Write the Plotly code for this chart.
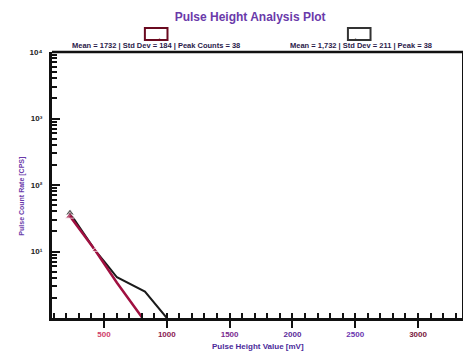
import plotly.graph_objects as go

# ---- data ----
red_x = [229, 428, 603, 802]
red_y = [34, 10.5, 3.4, 1.03]
black_x = [229, 428, 524, 603, 826, 1000]
black_y = [38, 10.5, 6.3, 4.1, 2.5, 1.0]

x_tick_vals = [500, 1000, 1500, 2000, 2500, 3000]
x_tick_text = ["500", "1000", "1500", "2000", "2500", "3000"]
x_tick_colors = ["#d0406a", "#8a1a50", "#7a2a90", "#5a2a9a", "#6a35b0", "#7a1a40"]
y_tick_vals = [1, 10, 100, 1000, 10000]
y_tick_text = ["", "10¹", "10²", "10³", "10⁴"]
y_minor_vals = [m * d for d in (1, 10, 100, 1000) for m in range(2, 10)]

legend_texts = ["Mean = 1732 | Std Dev = 184 | Peak Counts = 38",
                "Mean = 1,732 | Std Dev = 211 | Peak = 38"]

purple = "#6a3aaa"

fig = go.Figure()
fig.add_trace(go.Scatter(x=black_x, y=black_y, mode="lines+markers",
                         line=dict(color="#1a1a1a", width=2),
                         marker=dict(symbol="triangle-up", size=[8, 5, 0, 0, 0, 0], color="#1a1a1a"),
                         showlegend=False))
fig.add_trace(go.Scatter(x=red_x, y=red_y, mode="lines+markers",
                         line=dict(color="#a01040", width=2.5),
                         marker=dict(symbol="triangle-up", size=[8, 5, 0, 0], color="#a01040"),
                         showlegend=False))

fig.update_layout(
    width=471, height=353,
    margin=dict(l=44, r=16, t=44, b=43, autoexpand=False),
    paper_bgcolor="white", plot_bgcolor="white",
    font=dict(family="Liberation Sans", size=8, color="#222"),
    title=dict(text="<b>Pulse Height Analysis Plot</b>", x=0.514, xanchor="center",
               y=0.975, yanchor="middle", font=dict(size=12, color=purple)),
    xaxis=dict(range=[86, 3358], showgrid=False, zeroline=False, automargin=False,
               showline=True, linecolor="#111", linewidth=3,
               tickmode="array", tickvals=x_tick_vals,
               ticktext=[f"<span style='color:{c}'><b>{t}</b></span>" for t, c in zip(x_tick_text, x_tick_colors)],
               ticks="outside", ticklen=7, tickwidth=2, tickcolor="#111",
               tickfont=dict(size=8), ticklabelstandoff=-1,
               minor=dict(ticks="inside", ticklen=5, tickwidth=2, tickcolor="#111", dtick=100, showgrid=False)),
    yaxis=dict(type="log", range=[0, 4], showgrid=False, zeroline=False, automargin=False,
               showline=True, linecolor="#111", linewidth=3,
               tickmode="array", tickvals=y_tick_vals, ticktext=[f"<b>{t}</b>" for t in y_tick_text],
               ticks="inside", ticklen=8, tickwidth=2, tickcolor="#111",
               tickfont=dict(size=8, color="#222"), ticklabelstandoff=5,
               minor=dict(ticks="inside", ticklen=5, tickwidth=2, tickcolor="#111",
                          tickmode="array", tickvals=y_minor_vals, showgrid=False)),
)

# axis titles
fig.add_annotation(x=0.50, y=-0.109, xref="paper", yref="paper", showarrow=False,
                   xanchor="center", yanchor="middle",
                   text="<b>Pulse Height Value [mV]</b>", font=dict(size=8, color="#4a2a9a"))
fig.add_annotation(x=-0.073, y=0.46, xref="paper", yref="paper", showarrow=False, textangle=-90,
                   xanchor="center", yanchor="middle",
                   text="<b>Pulse Count Rate [CPS]</b>", font=dict(size=7, color=purple))

# top and right borders
fig.add_shape(type="line", xref="paper", yref="paper", x0=0, x1=1, y0=1, y1=1,
              line=dict(color="#111", width=2.5))
fig.add_shape(type="line", xref="paper", yref="paper", x0=1, x1=1, y0=0, y1=1,
              line=dict(color="#111", width=2))

# legend-like header: boxed markers with texts
legend_box_x = [0.226, 0.720]
legend_box_colors = ["#6a0a20", "#333333"]
legend_text_x = [0.253, 0.752]
for bx, bc, tx, txt in zip(legend_box_x, legend_box_colors, legend_text_x, legend_texts):
    fig.add_shape(type="rect", xref="paper", yref="paper",
                  x0=bx, x1=bx + 0.055, y0=1.045, y1=1.09,
                  line=dict(color=bc, width=2), fillcolor="white")
    fig.add_annotation(x=bx + 0.0275, y=1.067, xref="paper", yref="paper",
                       text="▴", showarrow=False, font=dict(size=6, color=bc))
    fig.add_annotation(x=tx, y=1.0, xref="paper", yref="paper", yanchor="bottom", xanchor="center",
                       text=f"<b>{txt}</b>", showarrow=False,
                       font=dict(size=7.5, color="#2a1a4a"))

fig.write_html("out.html")
